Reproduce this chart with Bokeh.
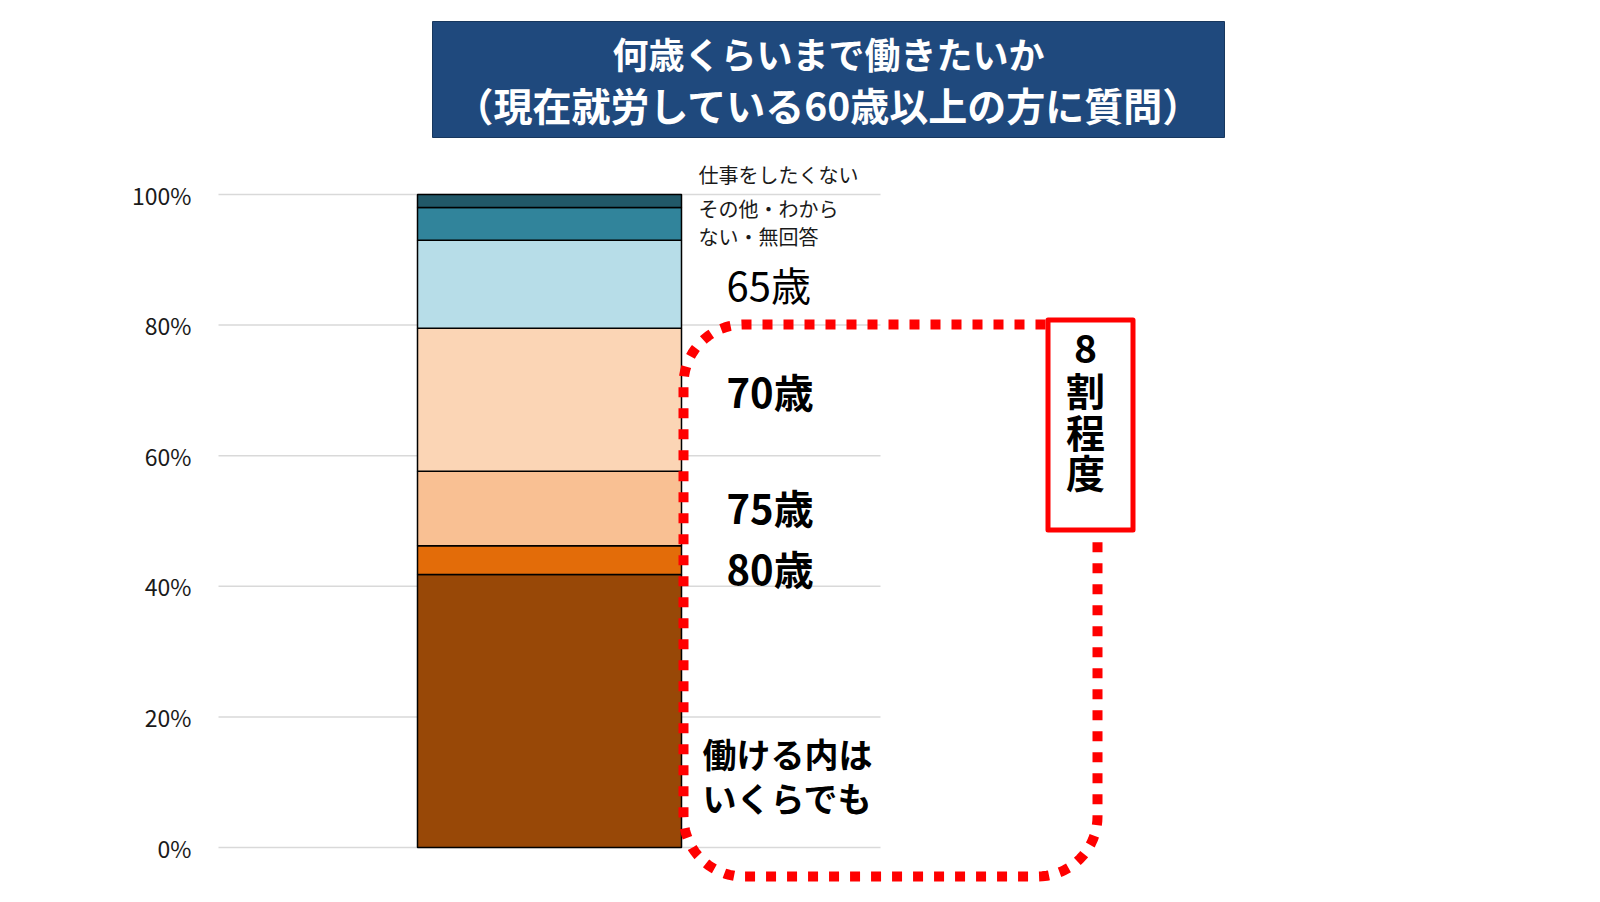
import math
from bokeh.plotting import figure
from bokeh.models import ColumnDataSource, Range1d, FixedTicker, PrintfTickFormatter
from bokeh.core.properties import value
from bokeh.embed import file_html
from bokeh.resources import INLINE

# data (share of respondents, %)
categories = ["働ける内はいくらでも", "80歳", "75歳", "70歳", "65歳",
              "その他・わからない・無回答", "仕事をしたくない"]
values = [41.8, 4.4, 11.4, 21.9, 13.5, 5.0, 2.0]
colors = ["#984807", "#E36C09", "#F9C093", "#FBD5B5", "#B7DDE8", "#31849B", "#215868"]
ticks = [0, 20, 40, 60, 80, 100]

title_lines = ["何歳くらいまで働きたいか", "（現在就労している60歳以上の方に質問）"]
big_note = ["8", "割", "程", "度"]

FONT = value("Noto Sans CJK JP")

# page geometry: 0% at y=847, 100% at y=194 (page pixels)
W, H = 1584, 886
left = 205
scale = (847 - 194) / 100
y0 = (847 - H) / scale
y1 = 847 / scale

p = figure(width=W, height=H, output_backend="svg", toolbar_location=None,
           x_range=Range1d(left, W), y_range=Range1d(y0, y1),
           x_axis_type=None, title=None, min_border_left=left,
           min_border_right=0, min_border_top=0, min_border_bottom=0)
p.extra_y_ranges = {"px": Range1d(H, 0)}
p.outline_line_color = None
p.grid.visible = False

ax = p.yaxis[0]
ax.ticker = FixedTicker(ticks=ticks)
ax.formatter = PrintfTickFormatter(format="%d%%")
ax.axis_line_color = None
ax.major_tick_line_color = None
ax.minor_tick_line_color = None
ax.major_label_standoff = 8
ax.major_label_text_font = "Noto Sans CJK JP"
ax.major_label_text_font_size = "23px"
ax.major_label_text_color = "#1a1a1a"

# grid lines
p.segment(x0=218, x1=880, y0=ticks, y1=ticks, line_color="#d9d9d9", line_width=1.5)

# stacked bar
data = {"x": [549]}
for c, v in zip(categories, values):
    data[c] = [v]
src = ColumnDataSource(data)
p.vbar_stack(categories, x="x", width=264, color=colors, line_color="black",
             line_width=1.5, source=src)

# title box
p.quad(left=432, right=1224, top=21, bottom=137, fill_color="#1F497D",
       line_color="#17375E", line_width=1, y_range_name="px")
p.text(x=[828], y=[52], text=title_lines[:1], text_color="white",
       text_font=FONT, text_font_style="bold", text_font_size="36px",
       text_align="center", text_baseline="middle", y_range_name="px")
p.text(x=[828], y=[103], text=title_lines[1:], text_color="white",
       text_font=FONT, text_font_style="bold", text_font_size="39px",
       text_align="center", text_baseline="middle", y_range_name="px")

# segment labels
p.text(x=[698, 698, 698], y=[174, 208, 236],
       text=["仕事をしたくない", "その他・わから", "ない・無回答"],
       text_font=FONT, text_font_size="20px", text_color="#1a1a1a",
       text_baseline="middle", y_range_name="px")
p.text(x=[726], y=[283], text=["65歳"], text_font=FONT, text_font_size="40px",
       text_color="black", text_baseline="middle", y_range_name="px")
p.text(x=[726, 726, 726], y=[390, 506, 567], text=["70歳", "75歳", "80歳"],
       text_font=FONT, text_font_size="40px", text_font_style="bold",
       text_color="black", text_baseline="middle", y_range_name="px")
p.text(x=[702, 702], y=[753, 797], text=["働ける内は", "いくらでも"],
       text_font=FONT, text_font_size="34px", text_font_style="bold",
       text_color="black", text_baseline="middle", y_range_name="px")

# red dotted rounded outline
L, T, R, B, r = 683, 324, 1097, 876, 60
xs, ys = [1045, L + r], [T, T]
for k in range(1, 21):
    a = math.pi / 2 + k * math.pi / 2 / 20
    xs.append(L + r + r * math.cos(a)); ys.append(T + r - r * math.sin(a))
xs.append(L); ys.append(B - r)
for k in range(1, 21):
    a = math.pi + k * math.pi / 2 / 20
    xs.append(L + r + r * math.cos(a)); ys.append(B - r - r * math.sin(a))
xs.append(R - r); ys.append(B)
for k in range(1, 21):
    a = 1.5 * math.pi + k * math.pi / 2 / 20
    xs.append(R - r + r * math.cos(a)); ys.append(B - r - r * math.sin(a))
xs.append(R); ys.append(530)
p.line(xs, ys, line_color="#FF0000", line_width=10, line_dash="10 11",
       line_cap="butt", y_range_name="px")

# red box with vertical note
p.quad(left=1047.5, right=1132.5, top=319.5, bottom=529.5, fill_color="white",
       line_color="#FF0000", line_width=5, line_join="round", y_range_name="px")
p.text(x=[1085] * 4, y=[348, 388, 430, 470], text=big_note, text_font=FONT,
       text_font_size="39px", text_font_style="bold", text_color="black",
       text_align="center", text_baseline="middle", y_range_name="px")

open("out.html", "w").write(file_html(p, INLINE))
